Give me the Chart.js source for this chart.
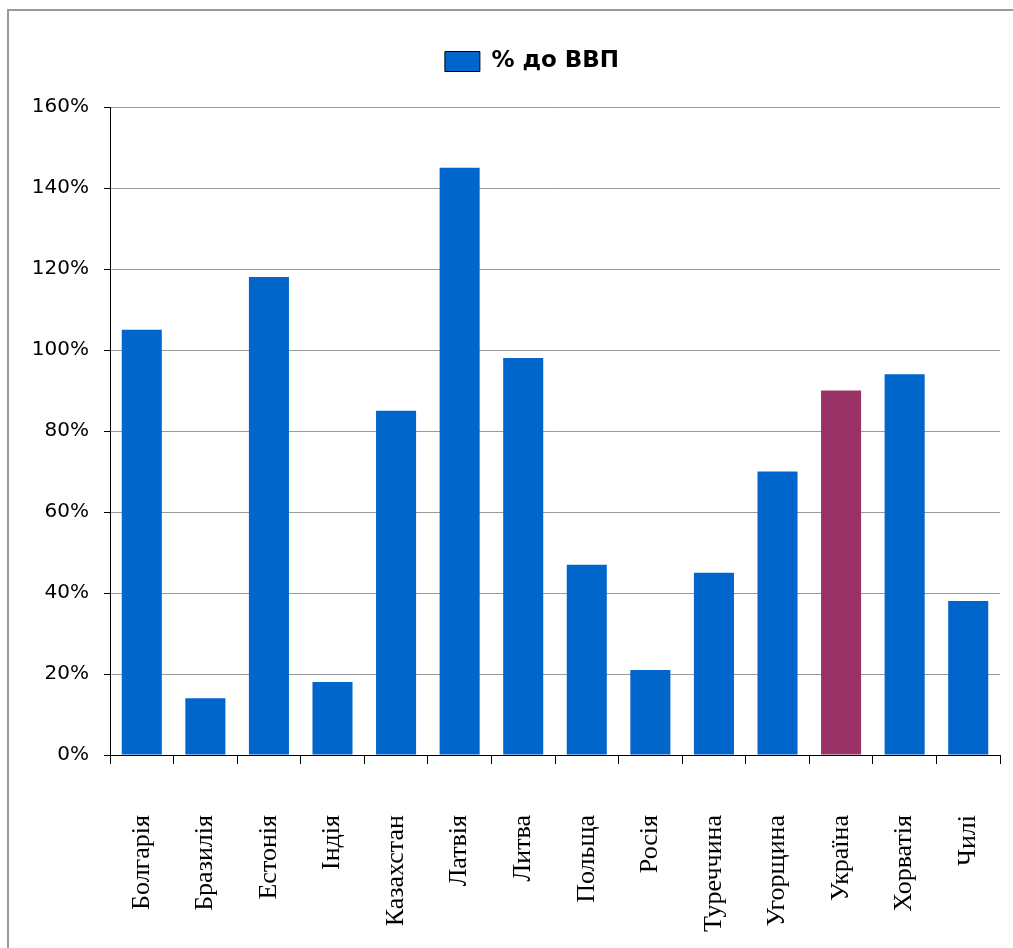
<!DOCTYPE html>
<html>
<head>
<meta charset="utf-8">
<script src="https://cdn.jsdelivr.net/npm/chart.js@4"></script>
<style>
    body { margin: 0; background: #fff; }
    #wrap { position: relative; width: 1013px; height: 948px; overflow: hidden; }
    #frame { position: absolute; left: 7px; top: 9px; width: 1100px; height: 1100px;
             border-left: 2px solid #999; border-top: 2px solid #999; }
    canvas { position: absolute; left: 0; top: 0; }
</style>
</head>
<body>
<div id="wrap">
    <div id="frame"></div>
    <canvas id="chart" width="1034" height="948"></canvas>
</div>
<script>
// data
let countries = ["Болгарія", "Бразилія", "Естонія", "Індія", "Казахстан", "Латвія", "Литва",
    "Польща", "Росія", "Туреччина", "Угорщина", "Україна", "Хорватія", "Чилі"];
let gdpShare = [105, 14, 118, 18, 85, 145, 98, 47, 21, 45, 70, 90, 94, 38];
let yTicks = [0, 20, 40, 60, 80, 100, 120, 140, 160];
let seriesName = "% до ВВП";
let highlighted = "Україна";

let blue = "#0066CC";
let purple = "#993366";

let ctx = document.getElementById("chart").getContext("2d");

new Chart(ctx, {
    type: "bar",
    data: {
        labels: countries,
        datasets: [{
            label: seriesName,
            data: gdpShare,
            backgroundColor: countries.map(c => c === highlighted ? purple : blue),
            borderWidth: 0,
            barPercentage: 0.63,
            categoryPercentage: 1
        }]
    },
    options: {
        responsive: false,
        animation: false,
        layout: {
            padding: { left: 30, right: 0, top: 30, bottom: 0 }
        },
        plugins: {
            tooltip: { enabled: false },
            legend: {
                position: "top",
                weight: 3000,
                labels: {
                    boxWidth: 35,
                    boxHeight: 20,
                    padding: 20,
                    color: "#000",
                    font: { family: "DejaVu Sans", size: 23, weight: "bold" },
                    generateLabels: function() {
                        return [{
                            text: seriesName,
                            fillStyle: blue,
                            strokeStyle: "#000",
                            lineWidth: 1,
                            fontColor: "#000"
                        }];
                    }
                }
            },
            // empty title used only as a spacer between legend and plot
            title: {
                display: true,
                text: "",
                weight: 0,
                font: { size: 10, lineHeight: 1 },
                padding: { top: 0, bottom: 14 }
            }
        },
        scales: {
            x: {
                grid: {
                    offset: true,
                    drawOnChartArea: false,
                    drawTicks: true,
                    // long tick slot pushes labels down, dash keeps the visible mark short
                    tickLength: 60,
                    tickBorderDash: [8, 200],
                    tickColor: "#000"
                },
                border: { color: "#000", width: 1 },
                ticks: {
                    minRotation: 90,
                    maxRotation: 90,
                    autoSkip: false,
                    padding: 0,
                    color: "#000",
                    font: { family: "Liberation Serif", size: 26 }
                },
                afterFit: function(scale) { scale.height = 193; }
            },
            y: {
                min: 0,
                max: 160,
                afterBuildTicks: function(scale) {
                    scale.ticks = yTicks.map(v => ({ value: v }));
                },
                grid: {
                    color: "#999",
                    tickLength: 6,
                    tickColor: "#000"
                },
                border: { color: "#000", width: 1 },
                ticks: {
                    padding: 15,
                    color: "#000",
                    font: { family: "DejaVu Sans", size: 20 },
                    callback: v => v + "%"
                },
                afterFit: function(scale) { scale.width = 80; }
            },
            // blank right-hand box so the legend centres like the reference
            spacer: {
                type: "linear",
                position: "right",
                grid: { display: false },
                border: { display: false },
                ticks: { display: false },
                afterFit: function(scale) { scale.width = 34; }
            }
        }
    }
});
</script>
</body>
</html>
